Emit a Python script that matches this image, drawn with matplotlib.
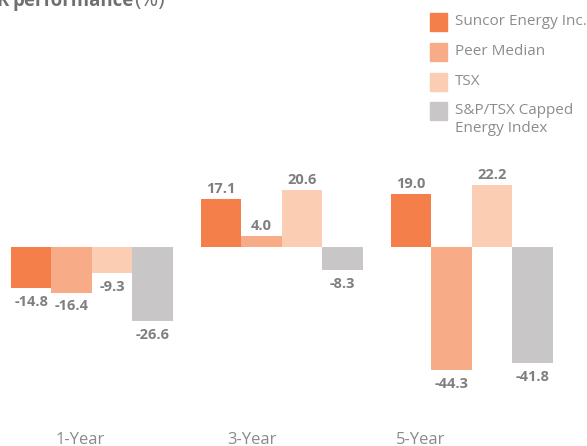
import numpy as np
import matplotlib.pyplot as plt
from matplotlib.patches import Rectangle

periods = ["1-Year", "3-Year", "5-Year"]
series = ["Suncor Energy Inc.", "Peer Median", "TSX", "S&P/TSX Capped\nEnergy Index"]
suncor = [-14.8, 17.1, 19.0]
peer = [-16.4, 4.0, -44.3]
tsx = [-9.3, 20.6, 22.2]
energy = [-26.6, -8.3, -41.8]
colors = ["#F47F4A", "#F7AC87", "#FBCDB2", "#C8C6C7"]

plt.rcParams['font.family'] = ['Open Sans', 'DejaVu Sans']

fig = plt.figure(figsize=(5.87, 4.46), dpi=100)
ax = fig.add_axes([0, 0, 1, 1])
ax.axis("off")

w = 1.0
gap = 4.69
centers = np.arange(3) * gap
values = [suncor, peer, tsx, energy]

for i, vals in enumerate(values):
    xs = centers + (i - 1.5) * w
    ax.bar(xs, vals, width=w, color=colors[i], label=series[i])
    for x, v in zip(xs, vals):
        if v >= 0:
            ax.text(x, v + 3.6, "%.1f" % v, ha="center", va="center",
                    fontsize=10.5, fontweight="bold", color="#7f7f7f")
        else:
            ax.text(x, v - 5.0, "%.1f" % v, ha="center", va="center",
                    fontsize=10.5, fontweight="bold", color="#7f7f7f")

ax.set_xlim(-2.27, 12.22)
ax.set_ylim(-71.6, 88.8)

# period labels
label_x = [-0.3, 3.95, 8.12]
for x, t in zip(label_x, periods):
    ax.text(x, -66.5, t, ha="center", va="top", fontsize=12, color="#8a8a8a")

# title, cut off at the top
fig.text(-4 / 587, 1 - 6 / 446, "R", fontsize=13.4, fontweight="bold",
         color="#6f6f6f", ha="left", va="baseline")
fig.text(12 / 587, 1 - 6 / 446, "performance", fontsize=13.4, fontweight="bold",
         color="#6f6f6f", ha="left", va="baseline")
fig.text(134 / 587, 1 - 6 / 446, "(%)", fontsize=15.5, color="#6f6f6f",
         ha="left", va="baseline")

# legend, square aligned with the first line of each label
row_top = [13, 43, 73, 102]
for c, s, y in zip(colors, series, row_top):
    fig.patches.append(Rectangle((430 / 587, 1 - (y + 18) / 446), 17 / 587, 18 / 446,
                                 transform=fig.transFigure, color=c))
    fig.text(455 / 587, 1 - (y + 1) / 446, s, fontsize=11, color="#8c8c8c",
             ha="left", va="top", linespacing=1.25)

fig.savefig("out.png", dpi=100)
